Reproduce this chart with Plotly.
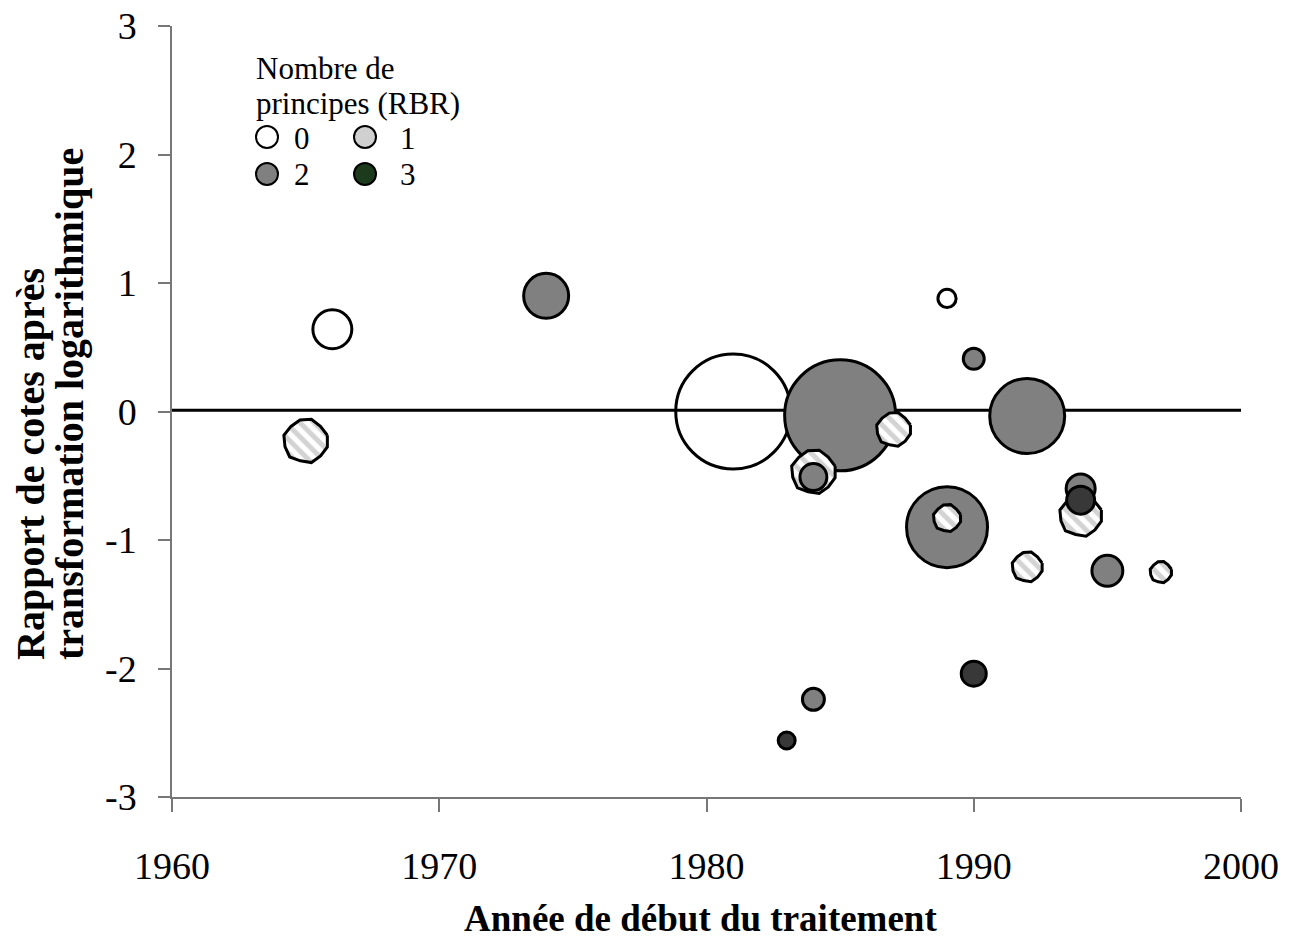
import math
import plotly.graph_objects as go

# ---------------- data ----------------
years = [1981, 1985, 1987, 1984, 1984, 1966, 1965, 1974, 1989, 1990, 1992,
         1989, 1989, 1994, 1994, 1994, 1992, 1995, 1997, 1990, 1984, 1983]
log_or = [0.00, -0.03, -0.14, -0.47, -0.51, 0.64, -0.23, 0.90, 0.88, 0.41, -0.035,
          -0.90, -0.83, -0.81, -0.60, -0.69, -1.21, -1.24, -1.25, -2.04, -2.24, -2.56]
principles = [0, 2, 1, 1, 2, 0, 1, 2, 0, 2, 2,
              2, 1, 1, 2, 3, 1, 2, 1, 3, 2, 3]
weights = [870, 812, 90, 144, 56, 110, 144, 144, 28, 36, 380,
           441, 60, 132, 64, 60, 72, 72, 39, 49, 39, 25]

ref_line_x = [1960, 2000]
ref_line_y = [0.01, 0.01]

x_ticks = [1960, 1970, 1980, 1990, 2000]
y_ticks = [-3, -2, -1, 0, 1, 2, 3]
y_tick_labels = ["-3", "-2", "-1", "0", "1", "2", "3"]

legend_title = ["Nombre de", "principes (RBR)"]
legend_labels = ["0", "1", "2", "3"]

x_title = "Année de début du traitement"
y_title = ["Rapport de cotes après", "transformation logarithmique"]

# ---------------- style ----------------
W, H = 1291, 946
ML, MR, MT, MB = 172, 50, 26, 149
PW, PH = W - ML - MR, H - MT - MB
X_RANGE = [1960, 2000]
Y_RANGE = [-3, 3]
px_per_x = PW / (X_RANGE[1] - X_RANGE[0])
px_per_y = PH / (Y_RANGE[1] - Y_RANGE[0])

LW = 3
SERIF = "Liberation Serif, Times New Roman, serif"
fills = {0: "rgba(255,255,255,0)", 2: "#808080", 3: "#383838"}
legend_fills = {0: "white", 1: "#d0d0d0", 2: "#808080", 3: "#1c3a1c"}
poly_factors = [1.0, 0.93, 1.0, 0.97, 0.92, 1.0, 0.95, 1.0, 0.91, 0.99, 0.94, 1.0]


def diameter(w):
    return 4 * math.sqrt(w)


fig = go.Figure()

fig.add_trace(go.Scatter(x=ref_line_x, y=ref_line_y, mode="lines",
                         line=dict(color="black", width=3),
                         hoverinfo="skip", showlegend=False))

for xv, yv, cat, w in zip(years, log_or, principles, weights):
    d = diameter(w)
    if cat == 1:
        r = d / 2 - LW / 2
        n = len(poly_factors)
        px_, py_ = [], []
        for k, f in enumerate(poly_factors + poly_factors[:1]):
            a = 2 * math.pi * (k % n) / n + math.radians(15)
            px_.append(xv + r * f * math.cos(a) / px_per_x)
            py_.append(yv + r * f * math.sin(a) / px_per_y)
        fig.add_trace(go.Scatter(
            x=px_, y=py_, mode="lines", fill="toself", fillcolor="white",
            fillpattern=dict(shape="\\", fgcolor="#a8a8a8", bgcolor="white",
                             size=10, solidity=0.5),
            line=dict(color="black", width=LW), hoverinfo="skip",
            showlegend=False))
    else:
        fig.add_trace(go.Scatter(
            x=[xv], y=[yv], mode="markers",
            marker=dict(size=d - LW, color=fills[cat],
                        line=dict(color="black", width=LW)),
            hoverinfo="skip", showlegend=False))

fig.update_layout(
    width=W, height=H,
    margin=dict(l=ML, r=MR, t=MT, b=MB, autoexpand=False),
    plot_bgcolor="white", paper_bgcolor="white",
    font=dict(family=SERIF, color="black"),
    showlegend=False,
    xaxis=dict(range=X_RANGE, tickvals=x_ticks, ticks="outside", ticklen=13,
               tickcolor="#777", tickwidth=1.5, showline=True, linecolor="#777",
               linewidth=1.5, showgrid=False, zeroline=False, automargin=False,
               tickfont=dict(family=SERIF, size=38, color="black"),
               ticklabelstandoff=22),
    yaxis=dict(range=Y_RANGE, tickvals=y_ticks, ticktext=y_tick_labels,
               ticks="outside", ticklen=12, tickcolor="#777", tickwidth=1.5,
               showline=True, linecolor="#777", linewidth=1.5, showgrid=False,
               zeroline=False, automargin=False,
               tickfont=dict(family=SERIF, size=38, color="black"),
               ticklabelstandoff=14),
)


def pxx(p):
    return (p - ML) / PW


def pxy(p):
    return (H - MB - p) / PH


annotations = []
# axis titles
annotations.append(dict(text=f"<b>{x_title}</b>", x=pxx(700), y=pxy(919),
                        xref="paper", yref="paper", showarrow=False,
                        xanchor="center", yanchor="middle",
                        font=dict(family=SERIF, size=37, color="black")))
for cx, t in zip([30, 69], y_title):
    annotations.append(dict(text=f"<b>{t}</b>", x=pxx(cx), y=pxy(662),
                            xref="paper", yref="paper", showarrow=False,
                            textangle=-90, xanchor="center", yanchor="bottom",
                            font=dict(family=SERIF, size=40, color="black")))
# legend title
for cy, t in zip([68, 104], legend_title):
    annotations.append(dict(text=t, x=pxx(254), y=pxy(cy), xref="paper",
                            yref="paper", showarrow=False, xanchor="left",
                            yanchor="middle",
                            font=dict(family=SERIF, size=31, color="black")))

shapes = []
legend_pos = {0: (267, 137, 292), 1: (365, 137, 398),
              2: (267, 174, 292), 3: (365, 174, 398)}
for lab in legend_labels:
    c = int(lab)
    cx, cy, tx = legend_pos[c]
    shapes.append(dict(type="circle", xref="paper", yref="paper",
                       xsizemode="pixel", ysizemode="pixel",
                       xanchor=pxx(cx), yanchor=pxy(cy),
                       x0=-11, x1=11, y0=-11, y1=11,
                       fillcolor=legend_fills[c],
                       line=dict(color="black", width=2)))
    annotations.append(dict(text=lab, x=pxx(tx), y=pxy(cy + 1), xref="paper",
                            yref="paper", showarrow=False, xanchor="left",
                            yanchor="middle",
                            font=dict(family=SERIF, size=31, color="black")))

fig.update_layout(annotations=annotations, shapes=shapes)
fig.write_html("out.html",
               config={"displayModeBar": False},
               post_script="document.body.style.margin='0px';"
                           "document.body.style.padding='0px';")
